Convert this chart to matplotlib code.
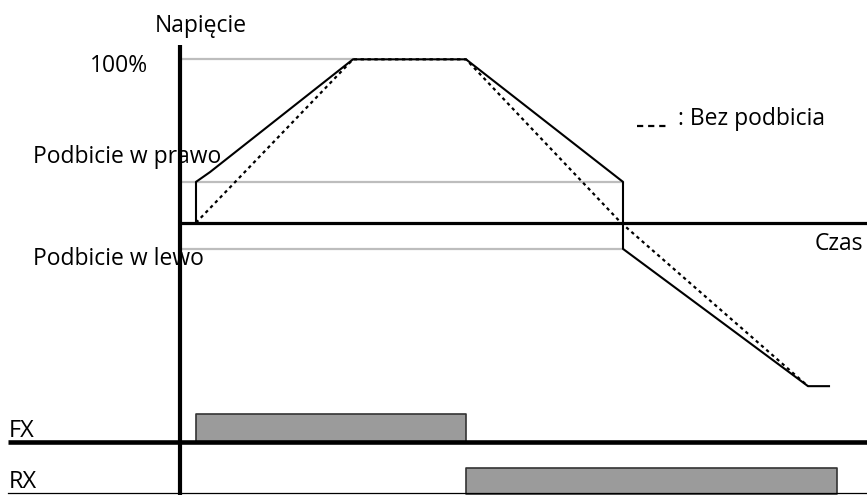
import matplotlib.pyplot as plt

# Voltage (in %) over time, with torque boost
boost_t = [1.6, 1.6, 3.0, 17.3, 28.6, 44.3, 44.3, 62.8, 64.9]
boost_v = [0, 25, 31, 100, 100, 25, -16, -100, -100]

# Voltage without boost (dotted)
plain_t = [1.6, 17.3, 28.6, 44.1, 62.8]
plain_v = [0, 100, 100, 0, -100]

# Reference levels (%)
level_full = 100
level_right = 25
level_left = -16

# Run commands: (start, end)
fx_on = (1.6, 28.6)
rx_on = (28.6, 65.7)

# lane placement for the FX / RX signals
fx_base, fx_top = -134, -117
rx_base, rx_top = -166, -150.3

plt.rcParams['font.family'] = ['Open Sans', 'DejaVu Sans']

fig = plt.figure(figsize=(8.67, 4.95), dpi=100)
ax = fig.add_axes([0, 0, 1, 1])
ax.set_xlim(-18.0, 68.7)
ax.set_ylim(-166.6, 136.3)
ax.axis('off')

grey = '#bdbdbd'
fs = 16.5

# helper lines
ax.plot([0, boost_t[3]], [level_full] * 2, color=grey, lw=1.6, zorder=1)
ax.plot([0, boost_t[5]], [level_right] * 2, color=grey, lw=1.6, zorder=1)
ax.plot([0, boost_t[5]], [level_left] * 2, color=grey, lw=1.6, zorder=1)

# axes
ax.plot([0, 0], [108.8, -166.6], color='black', lw=3.0, zorder=3, solid_capstyle='butt')
ax.plot([0, 68.7], [0, 0], color='black', lw=2.3, zorder=3, solid_capstyle='butt')

# voltage curves
ax.plot(boost_t, boost_v, color='black', lw=1.5, zorder=4)
ax.plot(plain_t, plain_v, color='black', lw=1.6, ls=(0, (1.5, 1.6)), zorder=4)

# FX / RX signals
ax.fill_between(fx_on, fx_base, fx_top, facecolor='#9b9b9b', edgecolor='#333333', lw=1.2, zorder=2)
ax.fill_between(rx_on, rx_base, rx_top, facecolor='#9b9b9b', edgecolor='#333333', lw=1.2, zorder=2)
ax.plot([-17.2, 68.7], [fx_base] * 2, color='black', lw=3.3, zorder=3, solid_capstyle='butt')
ax.plot([-17.2, 68.7], [rx_base + 0.6] * 2, color='black', lw=0.9, zorder=3)

# texts
ax.text(2.1, 116.9, 'Napięcie', fontsize=fs, ha='center', va='baseline')
ax.text(-3.2, 92.4, '100%', fontsize=fs, ha='right', va='baseline')
ax.text(-14.7, 36.7, 'Podbicie w prawo', fontsize=fs, ha='left', va='baseline')
ax.text(-14.7, -25.9, 'Podbicie w lewo', fontsize=fs, ha='left', va='baseline')
ax.text(68.3, -16.7, 'Czas', fontsize=fs, ha='right', va='baseline')
ax.text(-17.1, -131.2, 'FX', fontsize=17, ha='left', va='baseline')
ax.text(-17.1, -162.5, 'RX', fontsize=17, ha='left', va='baseline')

# legend entry
ax.plot([45.7, 48.8], [59.2, 59.2], color='black', lw=1.6, ls=(0, (2.8, 2.2)))
ax.text(49.8, 59.8, ': Bez podbicia', fontsize=fs, ha='left', va='baseline')

fig.savefig('out.png', dpi=100)
